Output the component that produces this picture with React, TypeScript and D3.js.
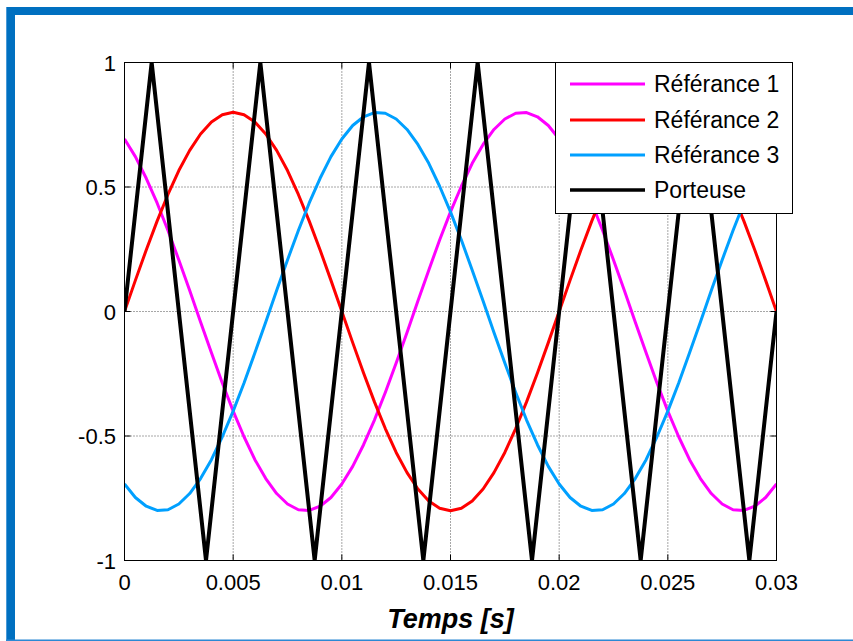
import React from "react";
import * as d3 from "d3";

// Time samples (s), step 0.0005 s
const timeSamples: number[] = d3.range(0, 61).map((i) => +(i * 0.0005).toFixed(4));

const reference1: number[] = [
  0.693, 0.622, 0.535, 0.436, 0.325, 0.207, 0.084, -0.042, -0.166, -0.287,
  -0.4, -0.503, -0.595, -0.671, -0.731, -0.773, -0.796, -0.799, -0.782, -0.747,
  -0.693, -0.622, -0.535, -0.436, -0.325, -0.207, -0.084, 0.042, 0.166, 0.287,
  0.4, 0.503, 0.595, 0.671, 0.731, 0.773, 0.796, 0.799, 0.782, 0.747,
  0.693, 0.622, 0.535, 0.436, 0.325, 0.207, 0.084, -0.042, -0.166, -0.287,
  -0.4, -0.503, -0.595, -0.671, -0.731, -0.773, -0.796, -0.799, -0.782, -0.747,
  -0.693,
];

const reference2: number[] = [
  0, 0.125, 0.247, 0.363, 0.47, 0.566, 0.647, 0.713, 0.761, 0.79,
  0.8, 0.79, 0.761, 0.713, 0.647, 0.566, 0.47, 0.363, 0.247, 0.125,
  0, -0.125, -0.247, -0.363, -0.47, -0.566, -0.647, -0.713, -0.761, -0.79,
  -0.8, -0.79, -0.761, -0.713, -0.647, -0.566, -0.47, -0.363, -0.247, -0.125,
  0, 0.125, 0.247, 0.363, 0.47, 0.566, 0.647, 0.713, 0.761, 0.79,
  0.8, 0.79, 0.761, 0.713, 0.647, 0.566, 0.47, 0.363, 0.247, 0.125,
  0,
];

const reference3: number[] = [
  -0.693, -0.747, -0.782, -0.799, -0.796, -0.773, -0.731, -0.671, -0.595, -0.503,
  -0.4, -0.287, -0.166, -0.042, 0.084, 0.207, 0.325, 0.436, 0.535, 0.622,
  0.693, 0.747, 0.782, 0.799, 0.796, 0.773, 0.731, 0.671, 0.595, 0.503,
  0.4, 0.287, 0.166, 0.042, -0.084, -0.207, -0.325, -0.436, -0.535, -0.622,
  -0.693, -0.747, -0.782, -0.799, -0.796, -0.773, -0.731, -0.671, -0.595, -0.503,
  -0.4, -0.287, -0.166, -0.042, 0.084, 0.207, 0.325, 0.436, 0.535, 0.622,
  0.693,
];

// Carrier (triangle) vertices
const carrierTimes: number[] = [
  0, 0.00125, 0.00375, 0.00625, 0.00875, 0.01125, 0.01375, 0.01625,
  0.01875, 0.02125, 0.02375, 0.02625, 0.02875, 0.03,
];
const carrierValues: number[] = [0, 1, -1, 1, -1, 1, -1, 1, -1, 1, -1, 1, -1, 0];

const seriesNames: string[] = ["Référance 1", "Référance 2", "Référance 3", "Porteuse"];
const seriesColors: string[] = ["#ff00ff", "#ff0000", "#00a0ff", "#000000"];

const xTicks: number[] = [0, 0.005, 0.01, 0.015, 0.02, 0.025, 0.03];
const xTickLabels: string[] = ["0", "0.005", "0.01", "0.015", "0.02", "0.025", "0.03"];
const yTicks: number[] = [-1, -0.5, 0, 0.5, 1];
const yTickLabels: string[] = ["-1", "-0.5", "0", "0.5", "1"];
const xAxisTitle = "Temps [s]";

export default function App() {
  const W = 853;
  const H = 641;
  const left = 124.5;
  const right = 776.5;
  const top = 62.5;
  const bottom = 560.5;

  const x = d3.scaleLinear().domain([0, 0.03]).range([left, right]);
  const y = d3.scaleLinear().domain([-1, 1]).range([bottom, top]);

  const line = d3
    .line<[number, number]>()
    .x((d) => x(d[0]))
    .y((d) => y(d[1]));

  const series: [number, number][][] = [
    timeSamples.map((t, i) => [t, reference1[i]]),
    timeSamples.map((t, i) => [t, reference2[i]]),
    timeSamples.map((t, i) => [t, reference3[i]]),
    carrierTimes.map((t, i) => [t, carrierValues[i]]),
  ];

  const font = "Liberation Sans, Arial, sans-serif";
  const legend = { x: 555.5, y: 62.5, w: 237, h: 151 };
  const legendRows = [84, 120, 155, 190];

  return (
    <svg
      width={W}
      height={H}
      style={{ position: "absolute", left: 0, top: 0, background: "#fff" }}
      fontFamily={font}
    >
      <defs>
        <clipPath id="plotclip">
          <rect x={left} y={top} width={right - left} height={bottom - top} />
        </clipPath>
      </defs>
      {/* frame */}
      <rect x={6} y={7} width={W - 6} height={8} fill="#0070c0" />
      <rect x={6} y={7} width={9} height={H - 7} fill="#0070c0" />
      <rect x={6} y={7} width={1} height={H - 7} fill="#4a9ad8" />
      <rect x={6} y={639.5} width={W - 6} height={1.5} fill="#2b88d4" />

      {/* grid */}
      {xTicks.slice(1, -1).map((t) => (
        <line
          key={"gx" + t}
          x1={x(t)}
          x2={x(t)}
          y1={top}
          y2={bottom}
          stroke="#222"
          strokeWidth={0.8}
          strokeDasharray="1,2"
        />
      ))}
      {yTicks.slice(1, -1).map((v) => (
        <line
          key={"gy" + v}
          x1={left}
          x2={right}
          y1={y(v)}
          y2={y(v)}
          stroke="#222"
          strokeWidth={0.8}
          strokeDasharray="1,2"
        />
      ))}

      {/* series */}
      <g clipPath="url(#plotclip)">
        {series.map((s, i) => (
          <path
            key={i}
            d={line(s) || ""}
            fill="none"
            stroke={seriesColors[i]}
            strokeWidth={i === 3 ? 4 : 3}
            strokeLinejoin="round"
          />
        ))}
      </g>

      {/* axes box */}
      <rect x={left} y={top} width={right - left} height={bottom - top} fill="none" stroke="#000" strokeWidth={1} />
      {xTicks.map((t) => (
        <g key={"tx" + t}>
          <line x1={x(t)} x2={x(t)} y1={bottom} y2={bottom - 6} stroke="#000" />
          <line x1={x(t)} x2={x(t)} y1={top} y2={top + 6} stroke="#000" />
        </g>
      ))}
      {yTicks.map((v) => (
        <g key={"ty" + v}>
          <line x1={left} x2={left + 6} y1={y(v)} y2={y(v)} stroke="#000" />
          <line x1={right} x2={right - 6} y1={y(v)} y2={y(v)} stroke="#000" />
        </g>
      ))}

      {/* tick labels */}
      {xTicks.map((t, i) => (
        <text key={"lx" + t} x={x(t)} y={590} textAnchor="middle" fontSize={22}>
          {xTickLabels[i]}
        </text>
      ))}
      {yTicks.map((v, i) => (
        <text key={"ly" + v} x={116} y={y(v) + 8} textAnchor="end" fontSize={22}>
          {yTickLabels[i]}
        </text>
      ))}

      {/* x axis title */}
      <text
        x={(left + right) / 2}
        y={628}
        textAnchor="middle"
        fontSize={27}
        fontWeight="bold"
        fontStyle="italic"
      >
        {xAxisTitle}
      </text>

      {/* legend */}
      <rect x={legend.x} y={legend.y} width={legend.w} height={legend.h} fill="#fff" stroke="#000" strokeWidth={1} />
      {seriesNames.map((name, i) => (
        <g key={name}>
          <line
            x1={570}
            x2={645}
            y1={legendRows[i]}
            y2={legendRows[i]}
            stroke={seriesColors[i]}
            strokeWidth={i === 3 ? 3.5 : 3}
          />
          <text x={654} y={legendRows[i] + 8} fontSize={23}>
            {name}
          </text>
        </g>
      ))}
    </svg>
  );
}
